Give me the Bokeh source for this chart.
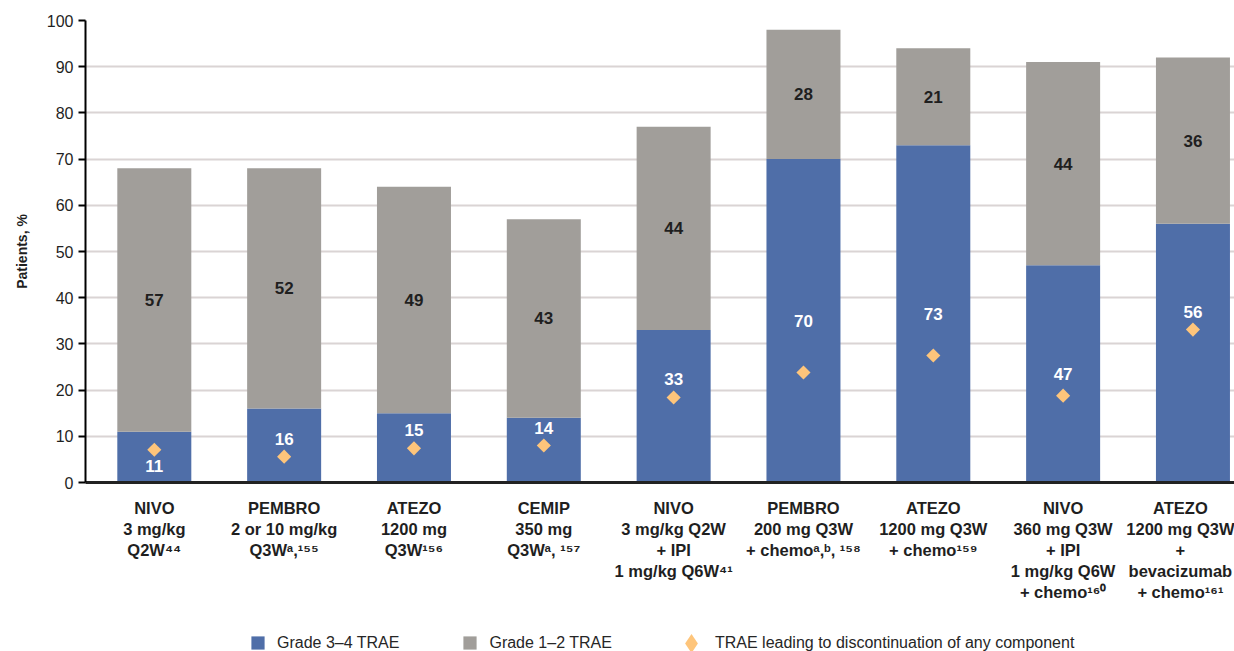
import numpy as np
from bokeh.plotting import figure
from bokeh.layouts import column
from bokeh.models import (ColumnDataSource, Range1d, FixedTicker, Legend, LegendItem)
from bokeh.core.properties import value
from bokeh.embed import file_html
from bokeh.resources import INLINE

# Treatment regimens (x-axis categories)
regimens = [
    "NIVO\n3 mg/kg\nQ2W⁴⁴",
    "PEMBRO\n2 or 10 mg/kg\nQ3Wᵃ,¹⁵⁵",
    "ATEZO\n1200 mg\nQ3W¹⁵⁶",
    "CEMIP\n350 mg\nQ3Wᵃ, ¹⁵⁷",
    "NIVO\n3 mg/kg Q2W\n+ IPI\n1 mg/kg Q6W⁴¹",
    "PEMBRO\n200 mg Q3W\n+ chemoᵃ,ᵇ, ¹⁵⁸",
    "ATEZO\n1200 mg Q3W\n+ chemo¹⁵⁹",
    "NIVO\n360 mg Q3W\n+ IPI\n1 mg/kg Q6W\n+ chemo¹⁶⁰",
    "ATEZO\n1200 mg Q3W\n+\nbevacizumab\n+ chemo¹⁶¹",
]

# Patients (%) with treatment-related adverse events
grade_3_4 = [11, 16, 15, 14, 33, 70, 73, 47, 56]
grade_1_2 = [57, 52, 49, 43, 44, 28, 21, 44, 36]
discontinuation = [7.1, 5.6, 7.4, 8.0, 18.4, 23.8, 27.5, 18.8, 33.1]

y_ticks = list(range(0, 101, 10))

BLUE = "#4f6ea8"
GREY = "#a19e9a"
ORANGE = "#fec57b"
TEXT = "#1f1f1f"
FONT = "Liberation Sans"

n = len(regimens)
xs = np.arange(n)
g34 = np.array(grade_3_4, dtype=float)
g12 = np.array(grade_1_2, dtype=float)
disc = np.array(discontinuation, dtype=float)
total = g34 + g12

# White count inside the blue segment: centred, unless the diamond is in the way,
# in which case it goes just above (or, if there is no room, just below) the diamond.
blue_label_y = []
for mid, d, top in zip(g34 / 2, disc, g34):
    if mid - d >= 4.5:
        blue_label_y.append(mid)
    elif d + 5.3 <= top:
        blue_label_y.append(d + 3.9)
    else:
        blue_label_y.append(d - 3.6)

src = ColumnDataSource(dict(
    x=xs, g34=g34, total=total, disc=disc,
    blue_y=blue_label_y, grey_y=g34 + g12 / 2,
    blue_txt=[str(v) for v in grade_3_4],
    grey_txt=[str(v) for v in grade_1_2],
))

p = figure(width=1234, height=611,
           x_range=Range1d(-0.53, 8.32), y_range=Range1d(0, 100),
           output_backend="svg", toolbar_location=None,
           min_border_left=85, min_border_right=0,
           min_border_top=20, min_border_bottom=129)
p.outline_line_color = None
p.background_fill_color = "white"

bar_w = 0.57
r_blue = p.vbar(x="x", bottom=0, top="g34", width=bar_w, source=src,
                fill_color=BLUE, line_color=None)
r_grey = p.vbar(x="x", bottom="g34", top="total", width=bar_w, source=src,
                fill_color=GREY, line_color=None)
p.scatter(x="x", y="disc", source=src, marker="square", angle=np.pi / 4,
          size=10, fill_color=ORANGE, line_color=None)

p.text(x="x", y="blue_y", text="blue_txt", source=src,
       text_font=value(FONT), text_font_style="bold", text_font_size="17px",
       text_color="white", text_align="center", text_baseline="middle")
p.text(x="x", y="grey_y", text="grey_txt", source=src,
       text_font=value(FONT), text_font_style="bold", text_font_size="17px",
       text_color=TEXT, text_align="center", text_baseline="middle")

# grid
p.xgrid.grid_line_color = None
p.ygrid.grid_line_color = "#dad4d4"
p.ygrid.grid_line_width = 2

# y axis
p.yaxis.ticker = FixedTicker(ticks=y_ticks)
p.yaxis.axis_label = "Patients, %"
p.yaxis.axis_label_text_font = FONT
p.yaxis.axis_label_text_font_style = "bold"
p.yaxis.axis_label_text_font_size = "14px"
p.yaxis.axis_label_text_color = TEXT
p.yaxis.axis_label_standoff = 14
p.yaxis.axis_line_color = "black"
p.yaxis.axis_line_width = 2
p.yaxis.major_tick_line_color = "black"
p.yaxis.major_tick_line_width = 2
p.yaxis.major_tick_out = 7
p.yaxis.major_tick_in = 0
p.yaxis.minor_tick_line_color = None
p.yaxis.major_label_text_font = FONT
p.yaxis.major_label_text_font_size = "16px"
p.yaxis.major_label_text_color = TEXT
p.yaxis.major_label_standoff = 5

# x axis
p.xaxis.ticker = FixedTicker(ticks=list(range(n)))
p.xaxis.major_label_overrides = {i: lab for i, lab in enumerate(regimens)}
p.xaxis.axis_line_color = "#222222"
p.xaxis.axis_line_width = 3
p.xaxis.major_tick_line_color = None
p.xaxis.minor_tick_line_color = None
p.xaxis.major_tick_out = 0
p.xaxis.major_tick_in = 0
p.xaxis.major_label_standoff = 16
p.xaxis.major_label_text_font = FONT
p.xaxis.major_label_text_font_style = "bold"
p.xaxis.major_label_text_font_size = "16.5px"
p.xaxis.major_label_text_line_height = 1.18
p.xaxis.major_label_text_color = TEXT

# legend strip under the chart (its frame lines up with the chart frame)
leg = figure(width=1234, height=40, x_range=(0, 1), y_range=(0, 1),
             x_axis_type=None, y_axis_type=None,
             output_backend="svg", toolbar_location=None,
             min_border=0)
leg.outline_line_color = None
leg.grid.grid_line_color = None

# key markers: a single unplotted (NaN) point each, used only for the legend keys
key_blue = leg.scatter(x=[np.nan], y=[np.nan], marker="square",
                       fill_color=BLUE, line_color=None)
key_grey = leg.scatter(x=[np.nan], y=[np.nan], marker="square",
                       fill_color=GREY, line_color=None)
key_disc = leg.scatter(x=[np.nan], y=[np.nan], marker="diamond",
                       fill_color=ORANGE, line_color=None)

legend_style = dict(orientation="horizontal", padding=0, margin=0,
                    border_line_color=None, background_fill_alpha=0,
                    label_text_font=FONT, label_text_font_size="16px",
                    label_text_color="#262626")
leg.add_layout(Legend(items=[LegendItem(label="Grade 3–4 TRAE", renderers=[key_blue]),
                             LegendItem(label="Grade 1–2 TRAE", renderers=[key_grey])],
                      location=(156, -8), glyph_width=33, glyph_height=33,
                      label_standoff=3, spacing=54, **legend_style))
leg.add_layout(Legend(items=[LegendItem(label="TRAE leading to discontinuation of any component",
                                        renderers=[key_disc])],
                      location=(582, -16), glyph_width=48, glyph_height=48,
                      label_standoff=0, **legend_style))

layout = column(p, leg, spacing=0)
open("out.html", "w").write(file_html(layout, INLINE))
